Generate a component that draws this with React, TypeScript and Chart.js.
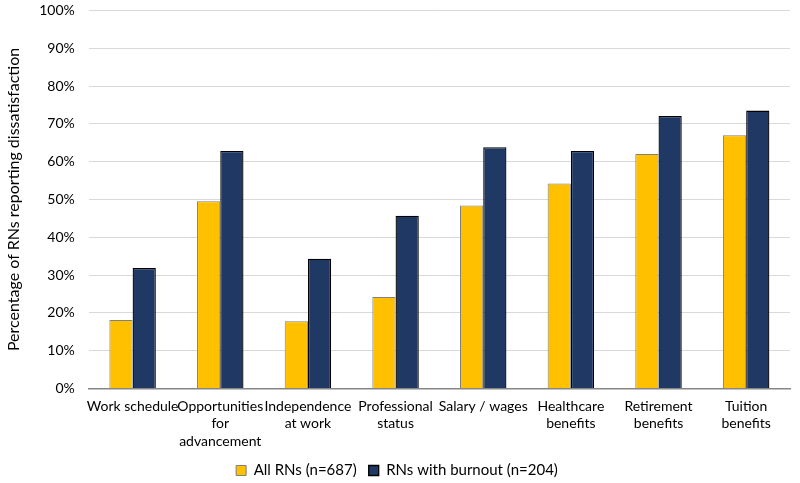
import React, { useEffect, useRef } from "react";
import { Chart, registerables } from "chart.js";

Chart.register(...registerables);

const categories: string[][] = [
  ["Work schedule"],
  ["Opportunities", "for", "advancement"],
  ["Independence", "at work"],
  ["Professional", "status"],
  ["Salary / wages"],
  ["Healthcare", "benefits"],
  ["Retirement", "benefits"],
  ["Tuition", "benefits"],
];

const allRNs: number[] = [18.1, 49.5, 17.8, 24.2, 48.4, 54.2, 62.0, 67.0];
const burnoutRNs: number[] = [31.9, 62.8, 34.3, 45.7, 63.8, 62.8, 72.1, 73.5];

const seriesNames: string[] = ["All RNs (n=687)", "RNs with burnout (n=204)"];
const yTicks: number[] = [0, 10, 20, 30, 40, 50, 60, 70, 80, 90, 100];

const FONT = "Lato, 'Liberation Sans', sans-serif";

export default function App() {
  const ref = useRef<HTMLCanvasElement | null>(null);
  useEffect(() => {
    document.body.style.margin = "0";
    if (!ref.current) return;
    const chart = new Chart(ref.current, {
      type: "bar",
      data: {
        labels: categories,
        datasets: [
          {
            label: seriesNames[0],
            data: allRNs,
            backgroundColor: "#FFC000",
            borderColor: "#7F7F7F",
            borderWidth: 1,
            categoryPercentage: 0.53,
            barPercentage: 1,
          },
          {
            label: seriesNames[1],
            data: burnoutRNs,
            backgroundColor: "#203864",
            borderColor: "#000000",
            borderWidth: 1.3,
            categoryPercentage: 0.53,
            barPercentage: 1,
          },
        ],
      },
      options: {
        animation: false,
        responsive: false,
        maintainAspectRatio: false,
        layout: { padding: { top: 0, right: 10, left: 4, bottom: -5 } },
        plugins: {
          tooltip: { enabled: false },
          legend: {
            position: "bottom",
            labels: {
              font: { family: FONT, size: 15 },
              color: "#000",
              boxWidth: 10,
              boxHeight: 10,
              padding: 12,
              useBorderRadius: false,
            },
          },
        },
        scales: {
          x: {
            grid: { display: false },
            border: { display: true, color: "#868686", width: 1.5 },
            ticks: {
              font: { family: FONT, size: 14, lineHeight: 1.25 },
              color: "#000",
              maxRotation: 0,
              autoSkip: false,
              padding: 1,
            },
          },
          y: {
            min: 0,
            max: 100,
            afterBuildTicks: (axis: any) => {
              axis.ticks = yTicks.map((v) => ({ value: v }));
            },
            grid: {
              color: "#D9D9D9",
              lineWidth: 1,
              drawTicks: true,
              tickLength: 12,
              tickColor: "rgba(0,0,0,0)",
            },
            border: { display: false },
            ticks: {
              font: { family: FONT, size: 14 },
              color: "#000",
              padding: 2,
              callback: (v: any) => v + "%",
            },
            title: {
              display: true,
              text: "Percentage of RNs reporting dissatisfaction",
              font: { family: FONT, size: 16 },
              color: "#000",
              padding: { top: 0, bottom: 14 },
            },
          },
        },
      },
    });
    return () => chart.destroy();
  }, []);
  return (
    <div style={{ width: 800, height: 483 }}>
      <canvas ref={ref} width={800} height={483} style={{ width: 800, height: 483, display: "block" }} />
    </div>
  );
}
